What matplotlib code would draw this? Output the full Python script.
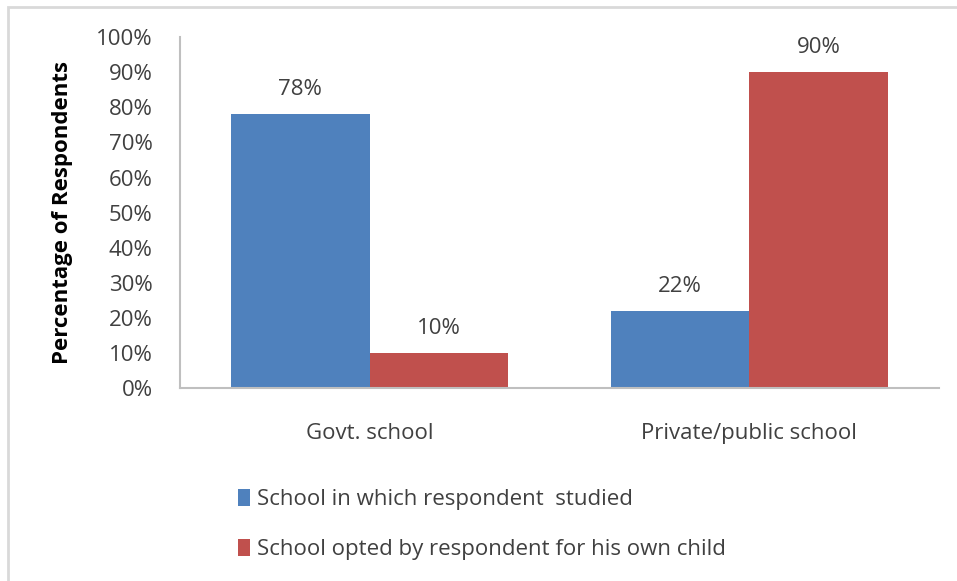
import matplotlib
matplotlib.use("Agg")
import matplotlib.pyplot as plt
from matplotlib.patches import Rectangle

# Veriler
categories = ["Govt. school", "Private/public school"]
studied = [78, 22]
opted = [10, 90]
series_names = ["School in which respondent  studied",
                "School opted by respondent for his own child"]
yticks = [0, 10, 20, 30, 40, 50, 60, 70, 80, 90, 100]

blue = "#4f81bd"
red = "#c0504d"
txt = "#404040"
fs = 16

plt.rcParams["font.family"] = ["Open Sans", "DejaVu Sans"]

fig = plt.figure(figsize=(9.57, 5.81), dpi=100)
ax = fig.add_axes([0.188, 0.332, 0.793, 0.604])

x = list(range(len(categories)))
w = 0.365
b1 = ax.bar([i - w / 2 for i in x], studied, w, color=blue, label=series_names[0])
b2 = ax.bar([i + w / 2 for i in x], opted, w, color=red, label=series_names[1])

# Barların üzerine değerleri yaz
for bars in (b1, b2):
    for bar in bars:
        h = bar.get_height()
        ax.text(bar.get_x() + bar.get_width() / 2, h + 7, f"{int(h)}%",
                ha="center", va="center", fontsize=fs, color=txt)

ax.set_xlim(-0.5, 1.5)
ax.set_ylim(0, 100)
ax.set_yticks(yticks)
ax.set_yticklabels([f"{v}%" for v in yticks], fontsize=fs, color=txt)
ax.set_xticks(x)
ax.set_xticklabels(categories, fontsize=fs, color=txt)
ax.tick_params(axis="both", length=0)
ax.tick_params(axis="y", pad=19.5)
ax.tick_params(axis="x", pad=25)

for s in ("top", "right"):
    ax.spines[s].set_visible(False)
for s in ("left", "bottom"):
    ax.spines[s].set_color("#bfbfbf")
    ax.spines[s].set_linewidth(1.5)

ax.set_ylabel("Percentage of Respondents", fontsize=fs, fontweight="bold",
              color="black", labelpad=17)

fig.legend(handles=[b1, b2], loc="upper left", bbox_to_anchor=(0.228, 0.193),
           frameon=False, fontsize=fs, handlelength=0.55, handleheight=0.8,
           handletextpad=0.3, labelspacing=1.3, labelcolor=txt)

# Dış çerçeve
fig.patches.append(Rectangle((8 / 957, -0.1), 1.1, 1.1 - 7 / 581,
                             transform=fig.transFigure, fill=False,
                             edgecolor="#d9d9d9", linewidth=2))

fig.savefig("out.png", dpi=100)
